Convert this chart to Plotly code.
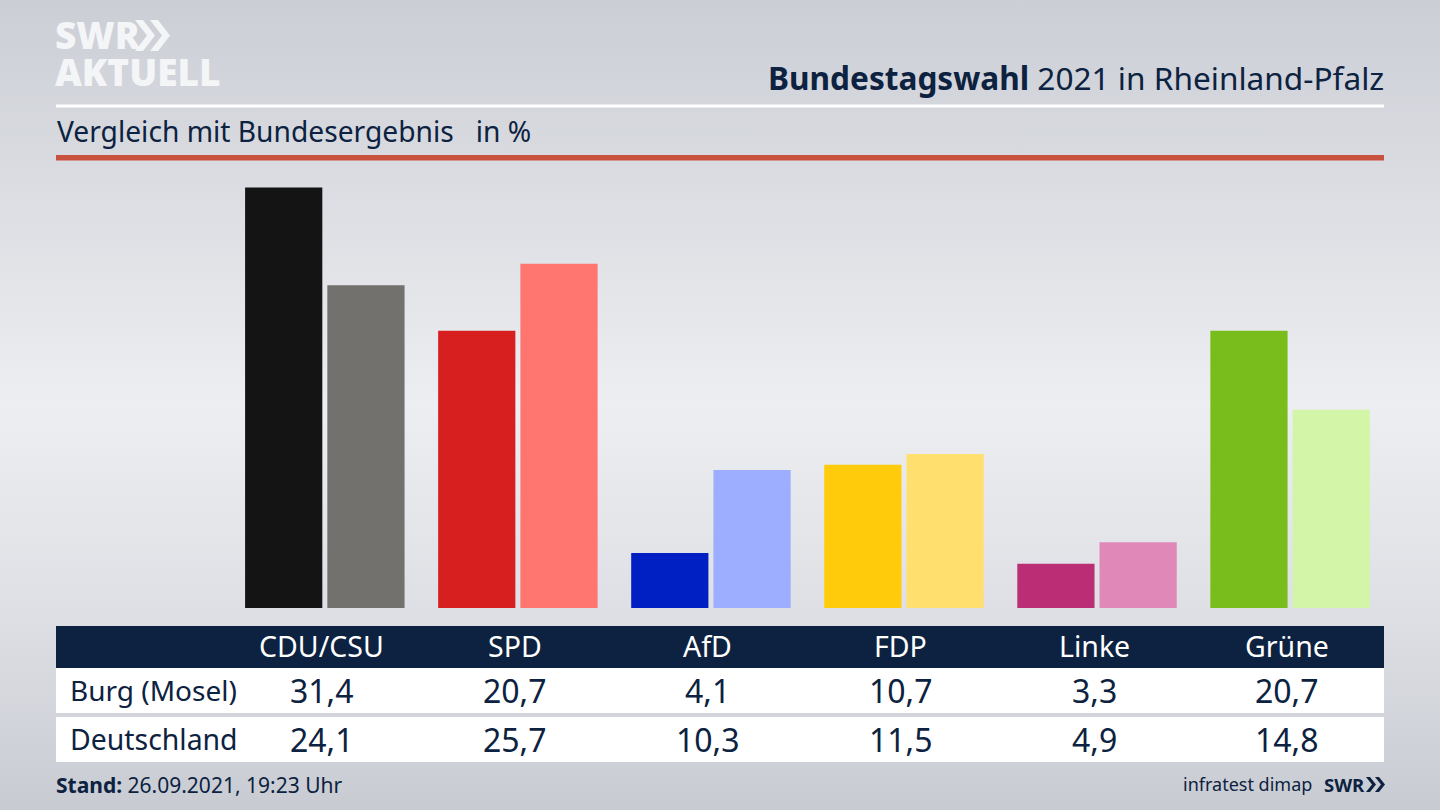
import base64
import plotly.graph_objects as go

parties = ["CDU/CSU", "SPD", "AfD", "FDP", "Linke", "Grüne"]
burg = [31.4, 20.7, 4.1, 10.7, 3.3, 20.7]
deutschland = [24.1, 25.7, 10.3, 11.5, 4.9, 14.8]
burg_colors = ["#141414", "#d81f1f", "#0020c4", "#ffcb0a", "#bb2d75", "#78bd1c"]
de_colors = ["#73716e", "#ff7570", "#9dadff", "#ffe06e", "#e088b8", "#d2f5a8"]
row_names = ["Burg (Mosel)", "Deutschland"]

W, H = 1440, 810
NAVY = "#0c2240"
FONT = "Noto Sans"


def px(x):
    return x / W


def py(y):
    return 1 - y / H


def de(v):
    return f"{v:.1f}".replace(".", ",")


svg = f"""<svg xmlns='http://www.w3.org/2000/svg' width='{W}' height='{H}' preserveAspectRatio='none'>
<defs><linearGradient id='g' x1='0' y1='0' x2='0' y2='1'>
<stop offset='0' stop-color='#cbced5'/><stop offset='0.25' stop-color='#dcdee3'/>
<stop offset='0.5' stop-color='#eceef1'/><stop offset='0.75' stop-color='#dee0e5'/>
<stop offset='1' stop-color='#c8cbd2'/></linearGradient></defs>
<rect width='{W}' height='{H}' fill='url(#g)'/></svg>"""
bg = "data:image/svg+xml;base64," + base64.b64encode(svg.encode()).decode()

fig = go.Figure()
fig.add_bar(x=parties, y=burg, name=row_names[0], marker_color=burg_colors, marker_line_width=0)
fig.add_bar(x=parties, y=deutschland, name=row_names[1], marker_color=de_colors, marker_line_width=0)


def rect(x0, y0, x1, y1, color):
    return dict(type="rect", xref="paper", yref="paper", x0=px(x0), x1=px(x1), y0=py(y0), y1=py(y1),
                fillcolor=color, line_width=0, layer="below")


def chevron(x, y, h, w, t, color):
    # filled chevron described in pixel space, converted to paper fractions
    pts = [(x, y), (x + t, y), (x + t + w, y + h / 2), (x + t, y + h), (x, y + h), (x + w, y + h / 2)]
    d = "M " + " L ".join(f"{px(a):.5f},{py(b):.5f}" for a, b in pts) + " Z"
    return dict(type="path", xref="paper", yref="paper", path=d, fillcolor=color, line_width=0)


shapes = [
    rect(56, 104.5, 1384, 107.5, "#ffffff"),
    rect(56, 155, 1384, 160.5, "#c9523f"),
    rect(56, 626, 1384, 668, NAVY),
    rect(56, 668, 1384, 713, "#ffffff"),
    rect(56, 717, 1384, 762, "#ffffff"),
    chevron(135, 20, 31, 12, 8, "#f4f5f7"),
    chevron(150, 20, 31, 12, 8, "#f4f5f7"),
    chevron(1366, 777, 15, 6, 4, NAVY),
    chevron(1375, 777, 15, 6, 4, NAVY),
]

ann = []


def text(s, x, y, size, color=NAVY, anchor="left", family=FONT, weight=None):
    font = dict(size=size, color=color, family=family)
    if weight:
        font["weight"] = weight
    ann.append(dict(text=s, xref="paper", yref="paper", x=px(x), y=py(y), xanchor=anchor, yanchor="middle",
                    showarrow=False, font=font, borderpad=0, borderwidth=0))


def cell(s, i, y, size, color=NAVY):
    ann.append(dict(text=s, xref="x", yref="paper", x=i, y=py(y), xanchor="center", yanchor="middle", xshift=-3,
                    showarrow=False, font=dict(size=size, color=color, family=FONT)))


text("SWR", 55, 35, 37, "#f4f5f7", family="Open Sans", weight=800)
text("AKTUELL", 55, 71, 37, "#f4f5f7", family="Open Sans", weight=800)
text("<b>Bundestagswahl</b> 2021 in Rheinland-Pfalz", 1384, 77, 31.6, anchor="right")
text("Vergleich mit Bundesergebnis   in %", 57, 131.5, 28.2)
text(row_names[0], 70, 690, 28)
text(row_names[1], 70, 739, 28.4)
text("<b>Stand:</b> 26.09.2021, 19:23 Uhr", 56, 785, 21)
text("infratest dimap", 1312, 784, 18, anchor="right")
text("<b>SWR</b>", 1365, 784, 18.5, anchor="right", family="Open Sans")

for i, p in enumerate(parties):
    cell(p, i, 646, 28.5, "#ffffff")
    cell(de(burg[i]), i, 690, 32)
    cell(de(deutschland[i]), i, 739, 32)

fig.update_layout(
    width=W, height=H, margin=dict(l=0, r=0, t=0, b=0), autosize=False,
    paper_bgcolor="#e0e2e6", plot_bgcolor="rgba(0,0,0,0)",
    barmode="group", bargap=0.148, bargroupgap=0.061, showlegend=False, hovermode=False,
    xaxis=dict(domain=[px(228.3), px(1386.6)], range=[-0.5, 5.5], type="category", visible=False,
               categoryorder="array", categoryarray=parties),
    yaxis=dict(domain=[py(608), py(160)], range=[0, 33.45], visible=False),
    shapes=shapes, annotations=ann,
    images=[dict(source=bg, xref="paper", yref="paper", x=0, y=1, sizex=1, sizey=1,
                 sizing="stretch", layer="below", xanchor="left", yanchor="top")],
)
fig.write_html("out.html", config={"displayModeBar": False},
               post_script="document.body.style.margin='0';")
